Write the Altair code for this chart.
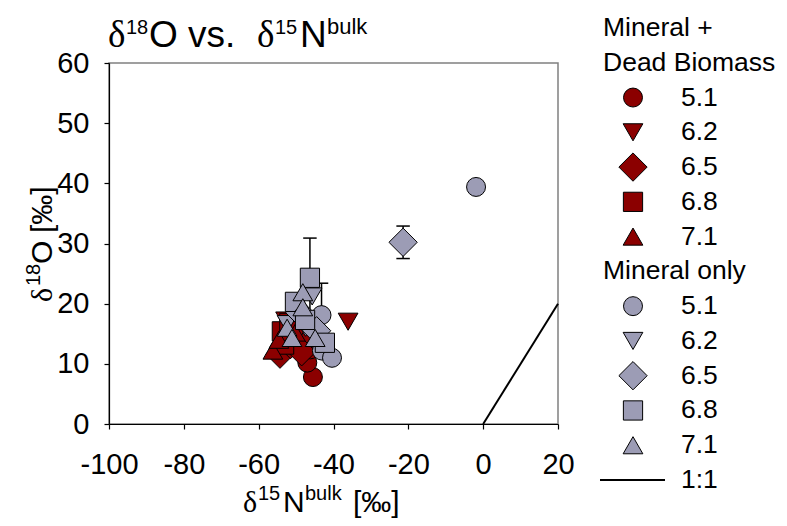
import altair as alt
import pandas as pd

# ---------------- data ----------------
groups = ["Mineral + Dead Biomass", "Mineral only"]
ph_levels = ["5.1", "6.2", "6.5", "6.8", "7.1"]

# Mineral + Dead Biomass (dark red)
mdb_ph = ["5.1", "5.1", "5.1", "5.1",
          "6.2", "6.2", "6.2",
          "6.5", "6.5", "6.5",
          "6.8", "6.8", "6.8",
          "7.1", "7.1", "7.1"]
mdb_x = [-45.5, -47.0, -46.2, -48.0,
         -36.1, -52.8, -49.8,
         -54.3, -51.5, -48.5,
         -53.2, -53.8, -51.8,
         -56.2, -54.6, -50.2]
mdb_y = [7.8, 10.2, 12.4, 13.5,
         17.0, 17.2, 14.8,
         11.6, 13.2, 12.0,
         13.2, 15.4, 16.8,
         12.2, 14.0, 15.2]
mdb_err = [0, 0, 0, 0,
           0, 0, 0,
           0, 0, 0,
           0, 0, 0,
           0, 0, 0]

# Mineral only (grey-lavender)
mo_ph = ["5.1", "5.1", "5.1", "5.1",
         "6.2", "6.2", "6.2",
         "6.5", "6.5", "6.5",
         "6.8", "6.8", "6.8", "6.8",
         "7.1", "7.1", "7.1", "7.1", "7.1"]
mo_x = [-1.9, -43.2, -43.1, -40.4,
        -52.4, -45.7, -47.5,
        -21.4, -49.0, -44.5,
        -46.3, -50.3, -47.6, -42.3,
        -48.2, -48.2, -52.4, -51.1, -44.9]
mo_y = [39.4, 18.1, 12.2, 11.0,
        16.6, 21.2, 16.0,
        30.2, 18.5, 15.5,
        24.3, 20.3, 17.3, 13.5,
        21.9, 19.4, 16.0, 14.3, 14.3]
mo_err = [0, 5.3, 0, 0,
          0, 0, 0,
          2.7, 0, 0,
          6.6, 0, 0, 0,
          0, 0, 0, 0, 0]

one_to_one = [0, 20]

x_ticks = [-100, -80, -60, -40, -20, 0, 20]
y_ticks = [0, 10, 20, 30, 40, 50, 60]

legend_text = ["Mineral +", "Dead Biomass", "5.1", "6.2", "6.5", "6.8", "7.1",
               "Mineral only", "5.1", "6.2", "6.5", "6.8", "7.1", "1:1"]
legend_group = [None, None] + [groups[0]] * 5 + [None] + [groups[1]] * 5 + [None]
legend_ph = [None, None] + ph_levels + [None] + ph_levels + [None]
legend_kind = ["header", "header"] + ["symbol"] * 5 + ["header"] + ["symbol"] * 5 + ["line"]

# ---------------- build tables ----------------
pts = pd.DataFrame({
    "x": mdb_x + mo_x,
    "y": mdb_y + mo_y,
    "ph": mdb_ph + mo_ph,
    "err": mdb_err + mo_err,
    "group": [groups[0]] * len(mdb_x) + [groups[1]] * len(mo_x),
})
line_df = pd.DataFrame({"x": one_to_one, "y": one_to_one})
leg = pd.DataFrame({
    "row": list(range(len(legend_text))),
    "label": legend_text,
    "group": legend_group,
    "ph": legend_ph,
    "kind": legend_kind,
})

W, H = 449, 361
SANS = "Liberation Sans"
SERIF = "Liberation Serif"

color_scale = alt.Scale(domain=groups, range=["#8B0000", "#9C9CB5"])
shape_scale = alt.Scale(domain=ph_levels,
                        range=["circle", "triangle-down", "diamond", "square", "triangle-up"])
# marker area per shape (diamonds are drawn larger, as in the reference)
SIZE_EXPR = ("datum.ph == '6.5' ? 800 : (datum.ph == '6.8' ? 370 : "
             "(datum.ph == '5.1' ? 360 : 390))")

xs = alt.Scale(domain=[-100, 20], nice=False, zero=False)
ys = alt.Scale(domain=[0, 60], nice=False, zero=False)

x_axis = alt.Axis(values=x_ticks, title=None, grid=False, labelPadding=21,
                  labelFlush=False, labelOverlap=False,
                  labelExpr="replace(datum.label, '\u2212', '-')")
y_axis = alt.Axis(values=y_ticks, title=None, grid=False, labelPadding=15,
                  labelFlush=False, labelOverlap=False)

base = alt.Chart(pts)

err = base.transform_filter("datum.err > 0").transform_calculate(
    lo="datum.y - datum.err", hi="datum.y + datum.err",
    xl="datum.x - 1.8", xr="datum.x + 1.8")

err_rule = err.mark_rule(color="black", strokeWidth=1.5).encode(
    x=alt.X("x:Q", scale=xs), y=alt.Y("lo:Q", scale=ys), y2="hi:Q")
cap_hi = err.mark_rule(color="black", strokeWidth=1.5).encode(
    x=alt.X("xl:Q", scale=xs), x2="xr:Q", y=alt.Y("hi:Q", scale=ys))
cap_lo = err.mark_rule(color="black", strokeWidth=1.5).encode(
    x=alt.X("xl:Q", scale=xs), x2="xr:Q", y=alt.Y("lo:Q", scale=ys))

line11 = alt.Chart(line_df).mark_line(color="black", strokeWidth=2).encode(
    x=alt.X("x:Q", scale=xs), y=alt.Y("y:Q", scale=ys))

points = base.transform_calculate(sz=SIZE_EXPR).mark_point(
    filled=True, opacity=1, stroke="black", strokeWidth=1).encode(
    x=alt.X("x:Q", scale=xs, axis=x_axis),
    y=alt.Y("y:Q", scale=ys, axis=y_axis),
    color=alt.Color("group:N", scale=color_scale, legend=None),
    shape=alt.Shape("ph:N", scale=shape_scale, legend=None),
    size=alt.Size("sz:Q", scale=None, legend=None),
)

main = alt.layer(err_rule, cap_hi, cap_lo, line11, points)

# ---------------- custom legend ----------------
leg_y = alt.Y("row:Q", scale=alt.Scale(domain=[0, 13], range=[-35, 417], nice=False, zero=False),
              axis=None)
lbase = alt.Chart(leg)
leg_head = lbase.transform_filter("datum.kind == 'header'").mark_text(
    align="left", baseline="middle", font=SANS, fontSize=26.5, color="black").encode(
    x=alt.value(494), y=leg_y, text="label:N")
leg_lab = lbase.transform_filter("datum.kind != 'header'").mark_text(
    align="left", baseline="middle", font=SANS, fontSize=26.5, color="black").encode(
    x=alt.value(572), y=leg_y, text="label:N")
leg_sym = lbase.transform_filter("datum.kind == 'symbol'").transform_calculate(
    sz=SIZE_EXPR).mark_point(filled=True, opacity=1, stroke="black", strokeWidth=1).encode(
    x=alt.value(524), y=leg_y,
    color=alt.Color("group:N", scale=color_scale, legend=None),
    shape=alt.Shape("ph:N", scale=shape_scale, legend=None),
    size=alt.Size("sz:Q", scale=None, legend=None),
)
leg_line = lbase.transform_filter("datum.kind == 'line'").mark_rule(
    color="black", strokeWidth=2).encode(
    x=alt.value(491), x2=alt.value(556), y=leg_y)

legend = alt.layer(leg_sym, leg_line, leg_head, leg_lab)

# ---------------- titles with super-scripts ----------------
dummy = pd.DataFrame({"a": [0]})


def piece(txt, x, y, size, font=SANS, angle=0):
    return alt.Chart(dummy).mark_text(
        text=txt, align="left", baseline="alphabetic", font=font,
        fontSize=size, color="black", angle=angle).encode(
        x=alt.value(x), y=alt.value(y))


texts = [
    # chart title
    piece("δ", -1, -16, 37, SERIF), piece("18", 17, -29, 20),
    piece("O vs.", 40, -16, 37), piece("δ", 148, -16, 37, SERIF),
    piece("15", 166, -29, 20), piece("N", 191, -16, 37), piece("bulk", 218, -29, 22),
    # x-axis title
    piece("δ", 134, 449, 30, SERIF), piece("15", 149, 437, 20),
    piece("N", 174, 449, 30), piece("bulk", 196, 437, 20), piece("[‰]", 244, 449, 30),
    # y-axis title
    piece("δ", -57, 239, 30, SERIF, 270), piece("18", -69, 223, 20, SANS, 270),
    piece("O", -57, 201, 30, SANS, 270), piece("[‰]", -57, 170, 30, SANS, 270),
]

chart = alt.layer(main, legend, *texts).resolve_scale(
    x="independent", y="independent"
).properties(
    width=W, height=H,
    padding={"left": 101, "top": 55, "right": 221, "bottom": 94},
    autosize=alt.AutoSizeParams(type="none"),
    background="white",
).configure_view(
    stroke="#808080", strokeWidth=1.5
).configure_axis(
    labelFont=SANS, labelFontSize=29, labelColor="black",
    domainColor="black", domainWidth=1.2, tickColor="black", tickWidth=1.2, tickSize=5,
)

chart.save("out.html", embed_options={"renderer": "svg", "actions": False})
